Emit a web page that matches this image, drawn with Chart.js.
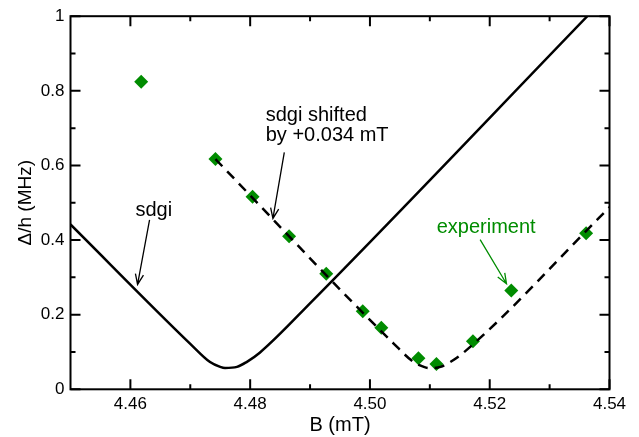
<!DOCTYPE html>
<html>
<head>
<meta charset="utf-8">
<script src="https://cdn.jsdelivr.net/npm/chart.js@4/dist/chart.umd.min.js"></script>
<style>
  html, body { margin: 0; padding: 0; background: #fff; }
  #wrap { width: 639px; height: 437px; }
</style>
</head>
<body>
<div id="wrap"><canvas id="gapChart" width="639" height="437"></canvas></div>
<script>
// sdgi curve (solid)
const sdgiB   = [4.4500, 4.4700, 4.4733, 4.4750, 4.4758, 4.4778, 4.4794, 4.4816, 4.4904, 4.5363];
const sdgiGap = [0.442, 0.122, 0.073, 0.060, 0.057, 0.060, 0.073, 0.098, 0.237, 1.000];

// sdgi shifted by +0.034 mT (dashed)
const shiftB   = [4.4742, 4.5040, 4.5073, 4.5090, 4.5098, 4.5118, 4.5134, 4.5156, 4.5400];
const shiftGap = [0.617, 0.122, 0.073, 0.060, 0.057, 0.060, 0.073, 0.098, 0.488];

// experiment (green diamonds)
const expB   = [4.4618, 4.4742, 4.4804, 4.4865, 4.4927, 4.4988, 4.5019, 4.5081, 4.5111, 4.5172, 4.5236, 4.5361];
const expGap = [0.824, 0.617, 0.516, 0.410, 0.310, 0.209, 0.165, 0.083, 0.068, 0.129, 0.265, 0.418];

// ticks
const xTicks = [4.46, 4.48, 4.50, 4.52, 4.54];
const xTickLabels = ['4.46', '4.48', '4.50', '4.52', '4.54'];
const xMinor = [4.47, 4.49, 4.51, 4.53];
const yTicks = [0, 0.2, 0.4, 0.6, 0.8, 1];
const yTickLabels = ['0', '0.2', '0.4', '0.6', '0.8', '1'];
const yMinor = [0.1, 0.3, 0.5, 0.7, 0.9];

const green = '#008c00';
const fontFam = "'Liberation Sans', Arial, Helvetica, sans-serif";

function toPoints(xs, ys) {
  return xs.map(function (x, i) { return { x: x, y: ys[i] }; });
}

function arrow(ctx, x1, y1, x2, y2) {
  var ang = Math.atan2(y2 - y1, x2 - x1);
  var len = 11, spread = 0.38;
  ctx.beginPath();
  ctx.moveTo(x1, y1);
  ctx.lineTo(x2, y2);
  ctx.moveTo(x2 - len * Math.cos(ang - spread), y2 - len * Math.sin(ang - spread));
  ctx.lineTo(x2, y2);
  ctx.lineTo(x2 - len * Math.cos(ang + spread), y2 - len * Math.sin(ang + spread));
  ctx.stroke();
}

// frame, inward ticks on all four sides, and the text notes
const framePlugin = {
  id: 'frame',
  afterDraw: function (chart) {
    var ctx = chart.ctx;
    var a = chart.chartArea;
    var xs = chart.scales.x, ys = chart.scales.y;
    ctx.save();
    ctx.strokeStyle = '#000';
    ctx.lineWidth = 2;
    ctx.strokeRect(a.left, a.top, a.right - a.left, a.bottom - a.top);

    ctx.beginPath();
    function xt(v, len) {
      var p = xs.getPixelForValue(v);
      ctx.moveTo(p, a.bottom); ctx.lineTo(p, a.bottom - len);
      ctx.moveTo(p, a.top); ctx.lineTo(p, a.top + len);
    }
    function yt(v, len) {
      var p = ys.getPixelForValue(v);
      ctx.moveTo(a.left, p); ctx.lineTo(a.left + len, p);
      ctx.moveTo(a.right, p); ctx.lineTo(a.right - len, p);
    }
    xTicks.forEach(function (v) { xt(v, 10); });
    xMinor.forEach(function (v) { xt(v, 5); });
    yTicks.forEach(function (v) { yt(v, 10); });
    yMinor.forEach(function (v) { yt(v, 5); });
    ctx.stroke();

    // notes
    var X = function (v) { return xs.getPixelForValue(v); };
    var Y = function (v) { return ys.getPixelForValue(v); };
    ctx.font = '20px ' + fontFam;
    ctx.textBaseline = 'middle';
    ctx.fillStyle = '#000';
    ctx.textAlign = 'center';
    ctx.fillText('sdgi', X(4.4639), Y(0.479));
    ctx.textAlign = 'left';
    ctx.fillText('sdgi shifted', X(4.4826), Y(0.735));
    ctx.fillText('by +0.034 mT', X(4.4826), Y(0.681));
    ctx.fillStyle = green;
    ctx.textAlign = 'center';
    ctx.fillText('experiment', X(4.5194), Y(0.435));

    ctx.lineWidth = 1.3;
    ctx.strokeStyle = '#000';
    arrow(ctx, X(4.4632), Y(0.454), X(4.4612), Y(0.281));
    arrow(ctx, X(4.4857), Y(0.635), X(4.4838), Y(0.458));
    ctx.strokeStyle = green;
    arrow(ctx, X(4.5184), Y(0.401), X(4.5228), Y(0.283));
    ctx.restore();
  }
};

const config = {
  type: 'scatter',
  data: {
    datasets: [
      {
        label: 'sdgi',
        data: toPoints(sdgiB, sdgiGap),
        showLine: true,
        cubicInterpolationMode: 'monotone',
        borderColor: '#000',
        borderWidth: 2.5,
        pointRadius: 0,
        fill: false
      },
      {
        label: 'sdgi shifted',
        data: toPoints(shiftB, shiftGap),
        showLine: true,
        cubicInterpolationMode: 'monotone',
        borderColor: '#000',
        borderWidth: 2.5,
        borderDash: [10, 7],
        pointRadius: 0,
        fill: false
      },
      {
        label: 'experiment',
        data: toPoints(expB, expGap),
        pointStyle: 'rectRot',
        pointRadius: 7,
        backgroundColor: green,
        borderColor: green,
        borderWidth: 0
      }
    ]
  },
  options: {
    responsive: false,
    animation: false,
    layout: { padding: { left: 0, top: 13, right: 29.5, bottom: 0 } },
    plugins: {
      legend: { display: false },
      tooltip: { enabled: false }
    },
    scales: {
      x: {
        type: 'linear',
        min: 4.45,
        max: 4.54,
        afterBuildTicks: function (scale) {
          scale.ticks = xTicks.map(function (v) { return { value: v }; });
        },
        afterFit: function (scale) { scale.height = 47.7; },
        grid: { display: false, drawTicks: false },
        border: { display: false },
        ticks: {
          padding: 5,
          color: '#000',
          font: { family: fontFam, size: 17 },
          maxRotation: 0,
          callback: function (v, i) { return xTickLabels[i]; }
        },
        title: {
          display: true,
          text: 'B (mT)',
          color: '#000',
          font: { family: fontFam, size: 20 },
          padding: { top: 0, bottom: 0 }
        }
      },
      y: {
        type: 'linear',
        min: 0,
        max: 1,
        afterBuildTicks: function (scale) {
          scale.ticks = yTicks.map(function (v) { return { value: v }; });
        },
        afterFit: function (scale) { scale.width = 70.5; },
        grid: { display: false, drawTicks: false },
        border: { display: false },
        ticks: {
          padding: 6,
          color: '#000',
          font: { family: fontFam, size: 17 },
          callback: function (v, i) { return yTickLabels[i]; }
        },
        title: {
          display: true,
          text: 'Δ/h (MHz)',
          color: '#000',
          font: { family: fontFam, size: 19 },
          padding: { top: 14.6, bottom: 0 }
        }
      }
    }
  },
  plugins: [framePlugin]
};

var gapChart = new Chart(document.getElementById('gapChart'), config);
</script>
</body>
</html>
